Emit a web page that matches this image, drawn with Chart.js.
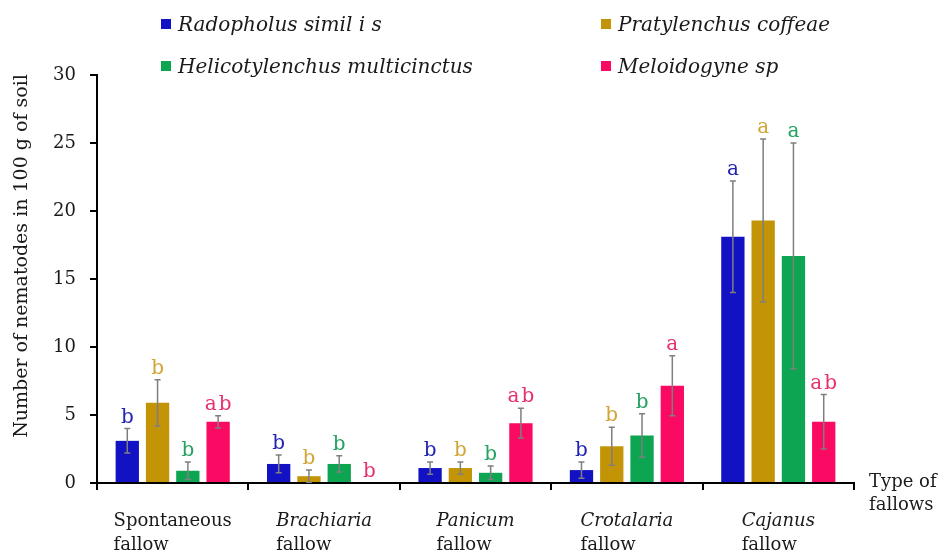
<!DOCTYPE html>
<html>
<head>
<meta charset="utf-8">
<script src="https://cdn.jsdelivr.net/npm/chart.js@4.4.0/dist/chart.umd.min.js"></script>
<style>
  body { margin: 0; background: #fff; }
</style>
</head>
<body>
<canvas id="myChart" width="947" height="553"></canvas>
<script>
// categories (fallow types)
var categories = ['Spontaneous', 'Brachiaria', 'Panicum', 'Crotalaria', 'Cajanus'];

var seriesNames = ['Radopholus simil i s', 'Pratylenchus coffeae', 'Helicotylenchus multicinctus', 'Meloidogyne sp'];

// means
var radopholus   = [3.1, 1.4, 1.1, 0.95, 18.1];
var pratylenchus = [5.9, 0.5, 1.1, 2.7, 19.3];
var helico       = [0.9, 1.4, 0.75, 3.5, 16.7];
var meloidogyne  = [4.5, 0, 4.4, 7.15, 4.5];

// standard errors
var radopholusErr   = [0.9, 0.65, 0.45, 0.6, 4.1];
var pratylenchusErr = [1.7, 0.45, 0.45, 1.4, 6.0];
var helicoErr       = [0.65, 0.6, 0.5, 1.6, 8.3];
var meloidogyneErr  = [0.45, 0, 1.1, 2.2, 2.0];

// significance letters
var radopholusLet   = ['b', 'b', 'b', 'b', 'a'];
var pratylenchusLet = ['b', 'b', 'b', 'b', 'a'];
var helicoLet       = ['b', 'b', 'b', 'b', 'a'];
var meloidogyneLet  = ['ab', 'b', 'ab', 'a', 'ab'];

var yTicks = [0, 5, 10, 15, 20, 25, 30];

var serif = '"DejaVu Serif", "Liberation Serif", serif';
var barColors = ['#1212c4', '#c29406', '#0ea552', '#fa0a62'];
var letterColors = ['#2424b4', '#d2a636', '#24a262', '#e8306c'];

var errs = [radopholusErr, pratylenchusErr, helicoErr, meloidogyneErr];
var lets = [radopholusLet, pratylenchusLet, helicoLet, meloidogyneLet];

var extras = {
  id: 'extras',
  afterDatasetsDraw: function (chart) {
    var ctx = chart.ctx;
    var y = chart.scales.y;
    ctx.save();
    chart.data.datasets.forEach(function (ds, di) {
      var meta = chart.getDatasetMeta(di);
      meta.data.forEach(function (bar, i) {
        var v = ds.data[i], e = errs[di][i];
        var top = y.getPixelForValue(v + e);
        var bot = y.getPixelForValue(v - e);
        if (e > 0) {
          ctx.strokeStyle = '#7f7f7f';
          ctx.lineWidth = 1.5;
          ctx.beginPath();
          ctx.moveTo(bar.x, top); ctx.lineTo(bar.x, bot);
          ctx.moveTo(bar.x - 3, top); ctx.lineTo(bar.x + 3, top);
          ctx.moveTo(bar.x - 3, bot); ctx.lineTo(bar.x + 3, bot);
          ctx.stroke();
        }
        // letter
        ctx.fillStyle = letterColors[di];
        ctx.font = '20px ' + serif;
        ctx.textAlign = 'center';
        ctx.textBaseline = 'alphabetic';
        var txt = lets[di][i].split('').join(String.fromCharCode(8202));
        ctx.fillText(txt, bar.x, top - 6);
      });
    });
    ctx.restore();
  },
  afterDraw: function (chart) {
    var ctx = chart.ctx;
    var x = chart.scales.x;
    var area = chart.chartArea;
    ctx.save();
    ctx.fillStyle = '#1a1a1a';
    ctx.textBaseline = 'alphabetic';
    // category labels
    categories.forEach(function (c, i) {
      var cx = x.getPixelForValue(i);
      ctx.font = (c === 'Spontaneous' ? '' : 'italic ') + '18px ' + serif;
      var w = ctx.measureText(c).width;
      var sx = cx - w / 2;
      ctx.textAlign = 'left';
      ctx.fillText(c, sx, 526);
      ctx.font = '18px ' + serif;
      ctx.fillText('fallow', sx, 550);
    });
    // axis end label
    ctx.font = '18px ' + serif;
    ctx.textAlign = 'left';
    ctx.fillText('Type of', area.right + 15, 487);
    ctx.fillText('fallows', area.right + 15, 510);
    // y title
    ctx.save();
    ctx.translate(27, 256);
    ctx.rotate(-Math.PI / 2);
    ctx.textAlign = 'center';
    ctx.font = '19px ' + serif;
    ctx.fillText('Number of nematodes in 100 g of soil', 0, 0);
    ctx.restore();
    // legend 2x2
    var pos = [[161, 31], [601, 31], [161, 73], [601, 73]];
    seriesNames.forEach(function (n, i) {
      ctx.fillStyle = barColors[i];
      ctx.fillRect(pos[i][0], pos[i][1] - 12, 10, 10);
      ctx.fillStyle = '#1a1a1a';
      ctx.font = 'italic 20px ' + serif;
      ctx.fillText(n, pos[i][0] + 17, pos[i][1]);
    });
    ctx.restore();
  }
};

var ctx = document.getElementById('myChart').getContext('2d');
var chart = new Chart(ctx, {
  type: 'bar',
  data: {
    labels: categories,
    datasets: [
      { label: seriesNames[0], data: radopholus, backgroundColor: barColors[0] },
      { label: seriesNames[1], data: pratylenchus, backgroundColor: barColors[1] },
      { label: seriesNames[2], data: helico, backgroundColor: barColors[2] },
      { label: seriesNames[3], data: meloidogyne, backgroundColor: barColors[3] }
    ]
  },
  options: {
    responsive: false,
    animation: false,
    devicePixelRatio: 1,
    categoryPercentage: 0.8,
    barPercentage: 0.77,
    layout: { padding: { top: 75, right: 93, bottom: 0, left: 0 } },
    plugins: { legend: { display: false }, tooltip: { enabled: false } },
    scales: {
      x: {
        grid: { drawOnChartArea: false, tickLength: 7, color: '#000', lineWidth: 2, offset: true },
        border: { color: '#000', width: 2 },
        ticks: { callback: function () { return ''; } },
        afterFit: function (s) { s.height = 70; }
      },
      y: {
        min: 0, max: 30,
        afterBuildTicks: function (s) { s.ticks = yTicks.map(function (v) { return { value: v }; }); },
        grid: { drawOnChartArea: false, tickLength: 7, color: '#000', lineWidth: 2 },
        border: { color: '#000', width: 2 },
        ticks: { font: { family: serif, size: 18 }, color: '#1a1a1a', padding: 14 },
        afterFit: function (s) { s.width = 97; }
      }
    }
  },
  plugins: [extras]
});
</script>
</body>
</html>
